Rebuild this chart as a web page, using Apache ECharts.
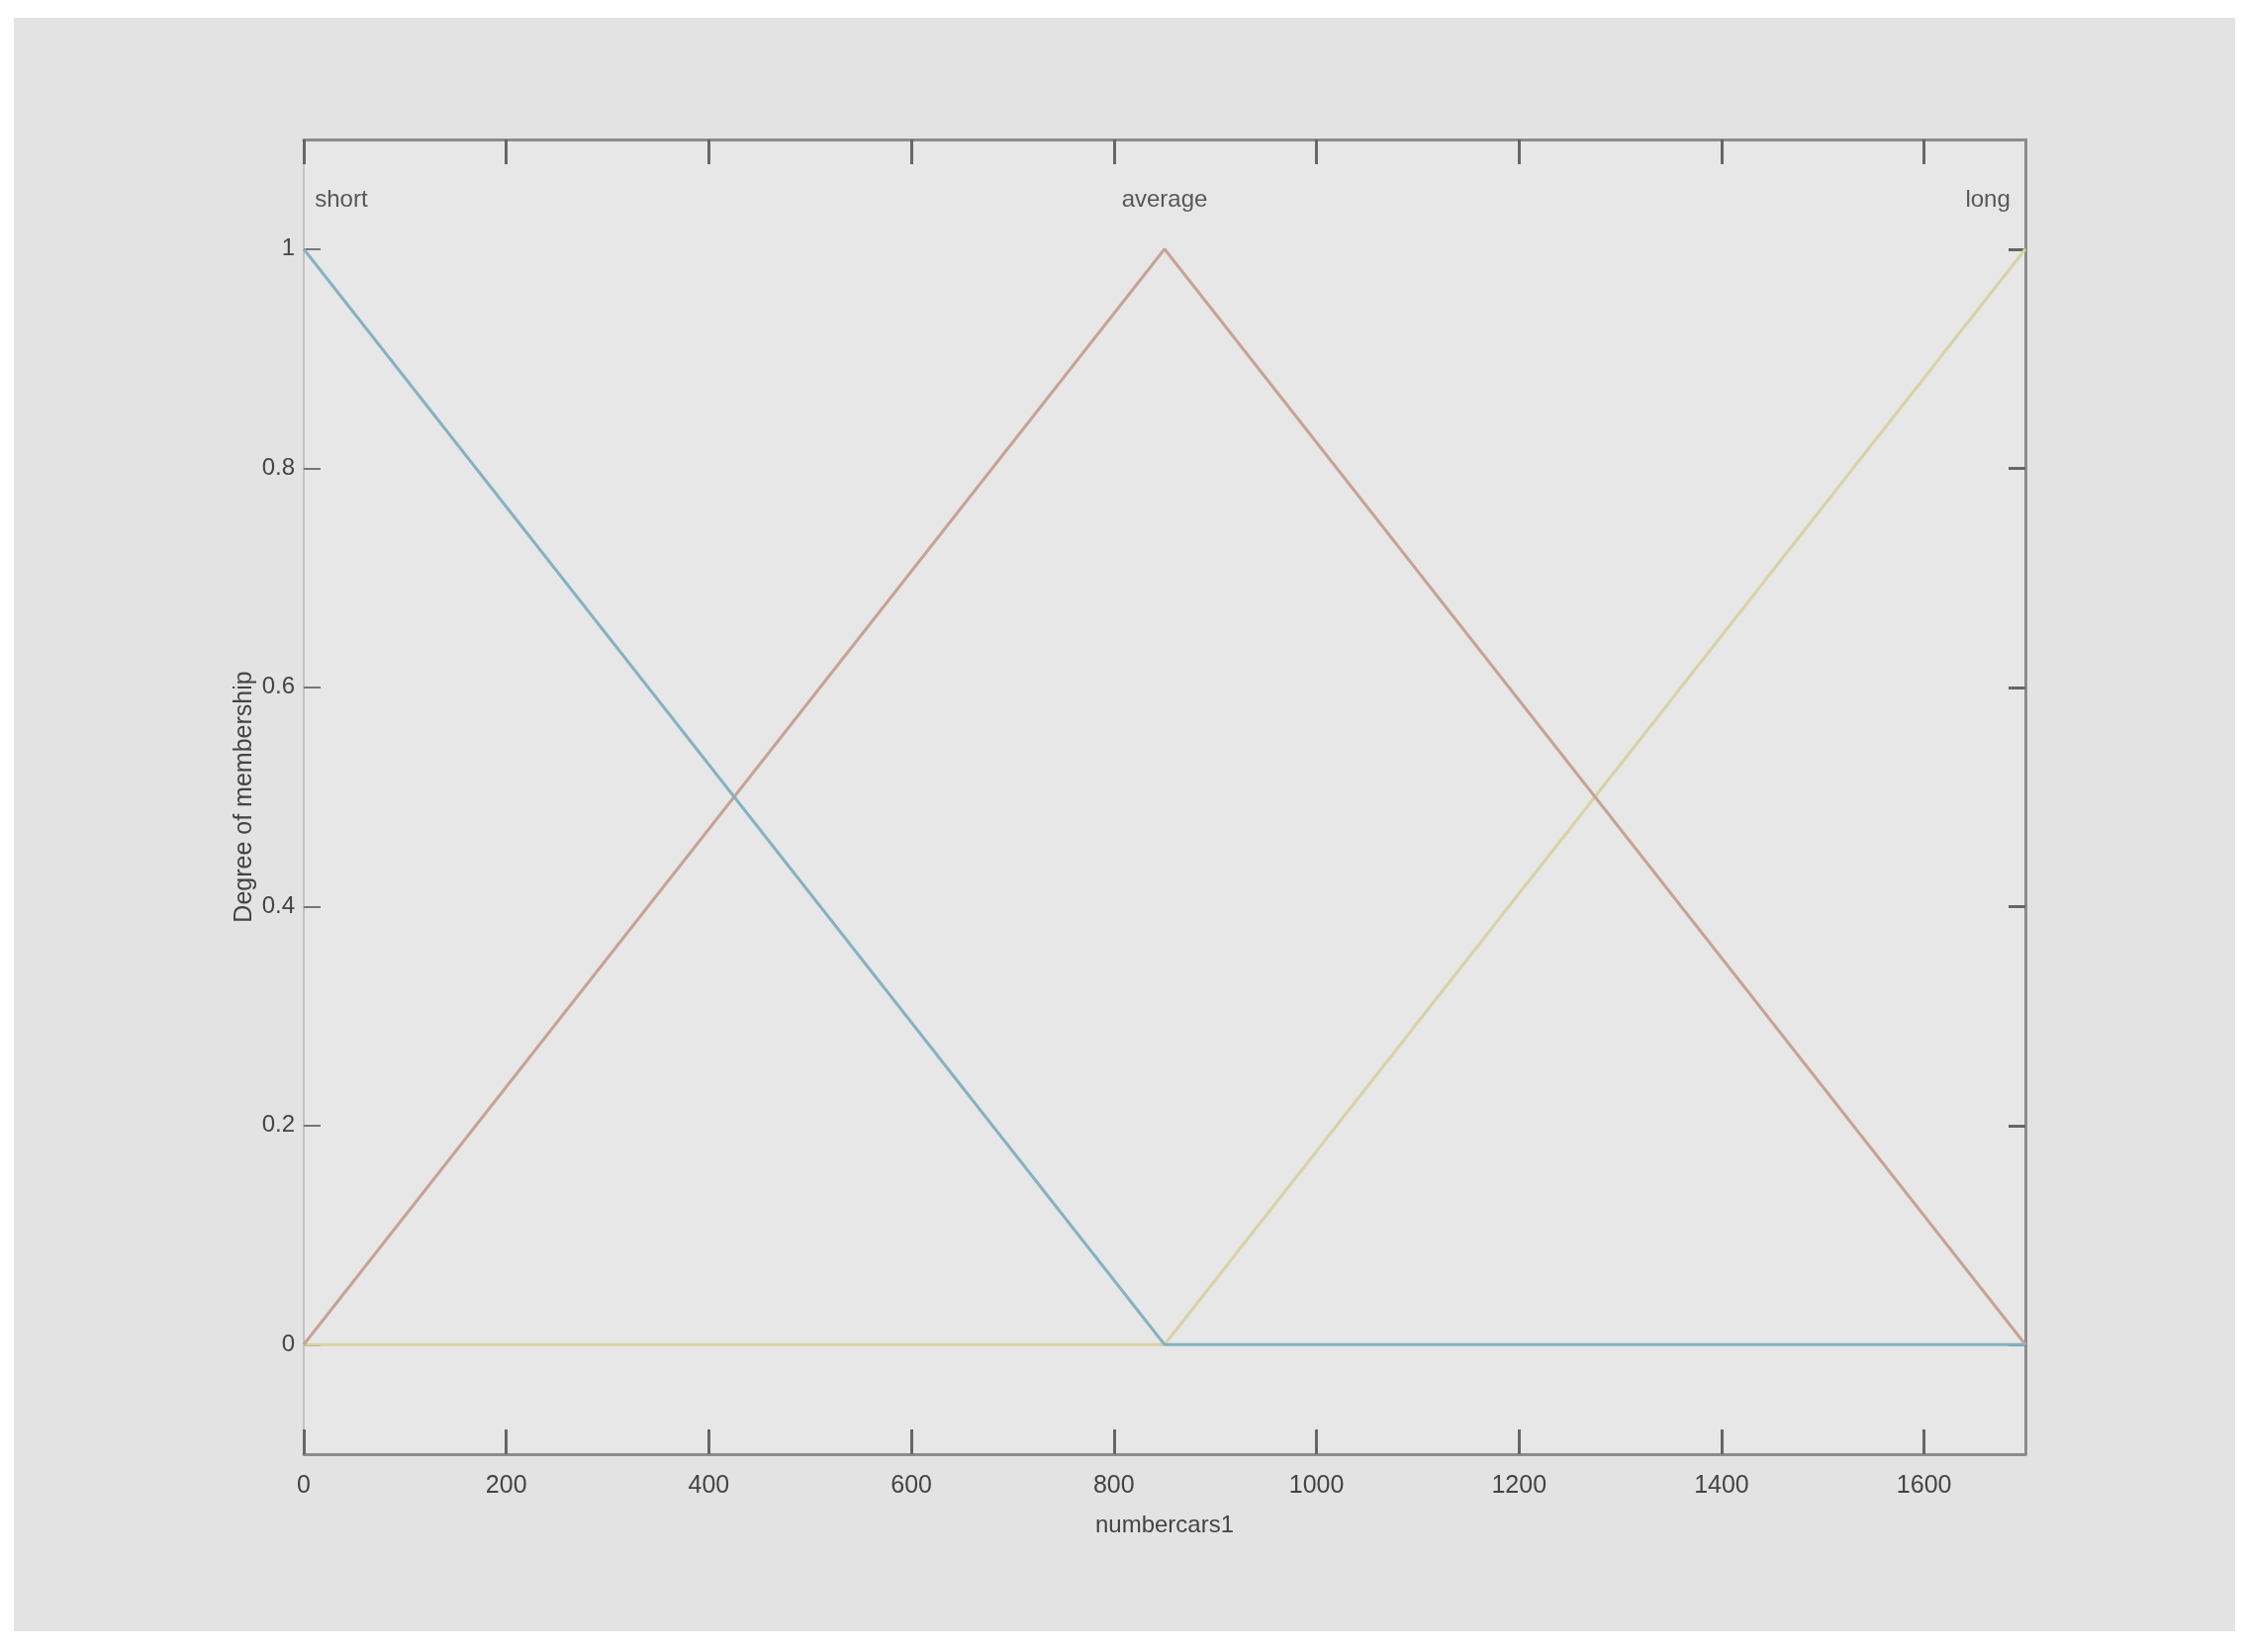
<!DOCTYPE html>
<html>
<head>
<meta charset="utf-8">
<script src="https://cdn.jsdelivr.net/npm/echarts@6/dist/echarts.min.js"></script>
<style>
html,body{margin:0;padding:0;background:#ffffff;}
#chart{width:2272px;height:1670px;}
</style>
</head>
<body>
<div id="chart"></div>
<script>
// Membership function vertices
const mfNames = ['short', 'average', 'long'];
const xPoints = [0, 850, 1700];
const shortVals = [1, 0, 0];
const averageVals = [0, 1, 0];
const longVals = [0, 0, 1];
// label anchor positions (data units)
const mfLabelX = [37, 850, 1663];
const mfLabelY = [1.045, 1.045, 1.045];
// ticks
const xTicks = [0, 200, 400, 600, 800, 1000, 1200, 1400, 1600];
const yTicks = [0, 0.2, 0.4, 0.6, 0.8, 1];
const xName = 'numbercars1';
const yName = 'Degree of membership';

const FONT = '"Liberation Sans Narrow", "Liberation Sans", Arial, sans-serif';
const colors = ['#86b2c2', '#c7a393', '#d8d2a6'];

function pairs(xs, ys){ return xs.map((x,i)=>[x, ys[i]]); }

const chart = echarts.init(document.getElementById('chart'));
const axisCommon = {
  axisLine:{show:true, onZero:false, lineStyle:{color:'#8c8c8c', width:3}},
  splitLine:{show:false}
};
chart.setOption({
  animation:false,
  backgroundColor:'#ffffff',
  graphic:[{
    type:'rect', left:14, top:18, z:-10,
    shape:{width:2245, height:1631},
    style:{fill:'#e3e3e3'}
  },{
    type:'rect', left:307, top:141, z:-9,
    shape:{width:1740, height:1329},
    style:{fill:'#e7e7e7'}
  }],
  grid:{left:307, top:141, width:1740, height:1329, containLabel:false},
  xAxis:[{
    type:'value', min:0, max:1700, position:'bottom',
    name:xName, nameLocation:'middle', nameGap:60,
    nameTextStyle:{fontFamily:FONT, fontSize:24, color:'#444'},
    ...axisCommon,
    axisTick:{show:true, inside:true, length:25, customValues:xTicks, lineStyle:{color:'#666', width:3}},
    axisLabel:{show:true, customValues:xTicks, margin:20, fontFamily:FONT, fontSize:25, color:'#444',
      formatter:v=>String(v)}
  },{
    type:'value', min:0, max:1700, position:'top',
    ...axisCommon,
    axisTick:{show:true, inside:true, length:25, customValues:xTicks, lineStyle:{color:'#666', width:3}},
    axisLabel:{show:false}
  }],
  yAxis:[{
    type:'value', min:-0.1, max:1.1, position:'left',
    name:yName, nameLocation:'middle', nameGap:47, nameRotate:90, nameMoveOverlap:false,
    nameTextStyle:{fontFamily:FONT, fontSize:25, color:'#444'},
    ...axisCommon,
    axisLine:{show:true, onZero:false, lineStyle:{color:'#c4c4c4', width:2}},
    axisTick:{show:true, inside:true, length:17, customValues:yTicks, lineStyle:{color:'#777', width:2}},
    axisLabel:{show:true, customValues:yTicks, margin:9, fontFamily:FONT, fontSize:24, color:'#444',
      formatter:v=>String(+v.toFixed(1))}
  },{
    type:'value', min:-0.1, max:1.1, position:'right',
    ...axisCommon,
    axisTick:{show:true, inside:true, length:17, customValues:yTicks, lineStyle:{color:'#666', width:3}},
    axisLabel:{show:false}
  }],
  series:[
    {name:mfNames[0], type:'line', data:pairs(xPoints, shortVals), symbol:'none', lineStyle:{color:colors[0], width:3}, z:3},
    {name:mfNames[1], type:'line', data:pairs(xPoints, averageVals), symbol:'none', lineStyle:{color:colors[1], width:3}, z:2},
    {name:mfNames[2], type:'line', data:pairs(xPoints, longVals), symbol:'none', lineStyle:{color:colors[2], width:3}, z:1},
    {type:'scatter', symbolSize:0, silent:true,
     data:mfNames.map((n,i)=>({value:[mfLabelX[i], mfLabelY[i]], name:n})),
     label:{show:true, position:'inside', formatter:p=>p.name, fontFamily:FONT, fontSize:24, color:'#333'}}
  ]
});
</script>
</body>
</html>
